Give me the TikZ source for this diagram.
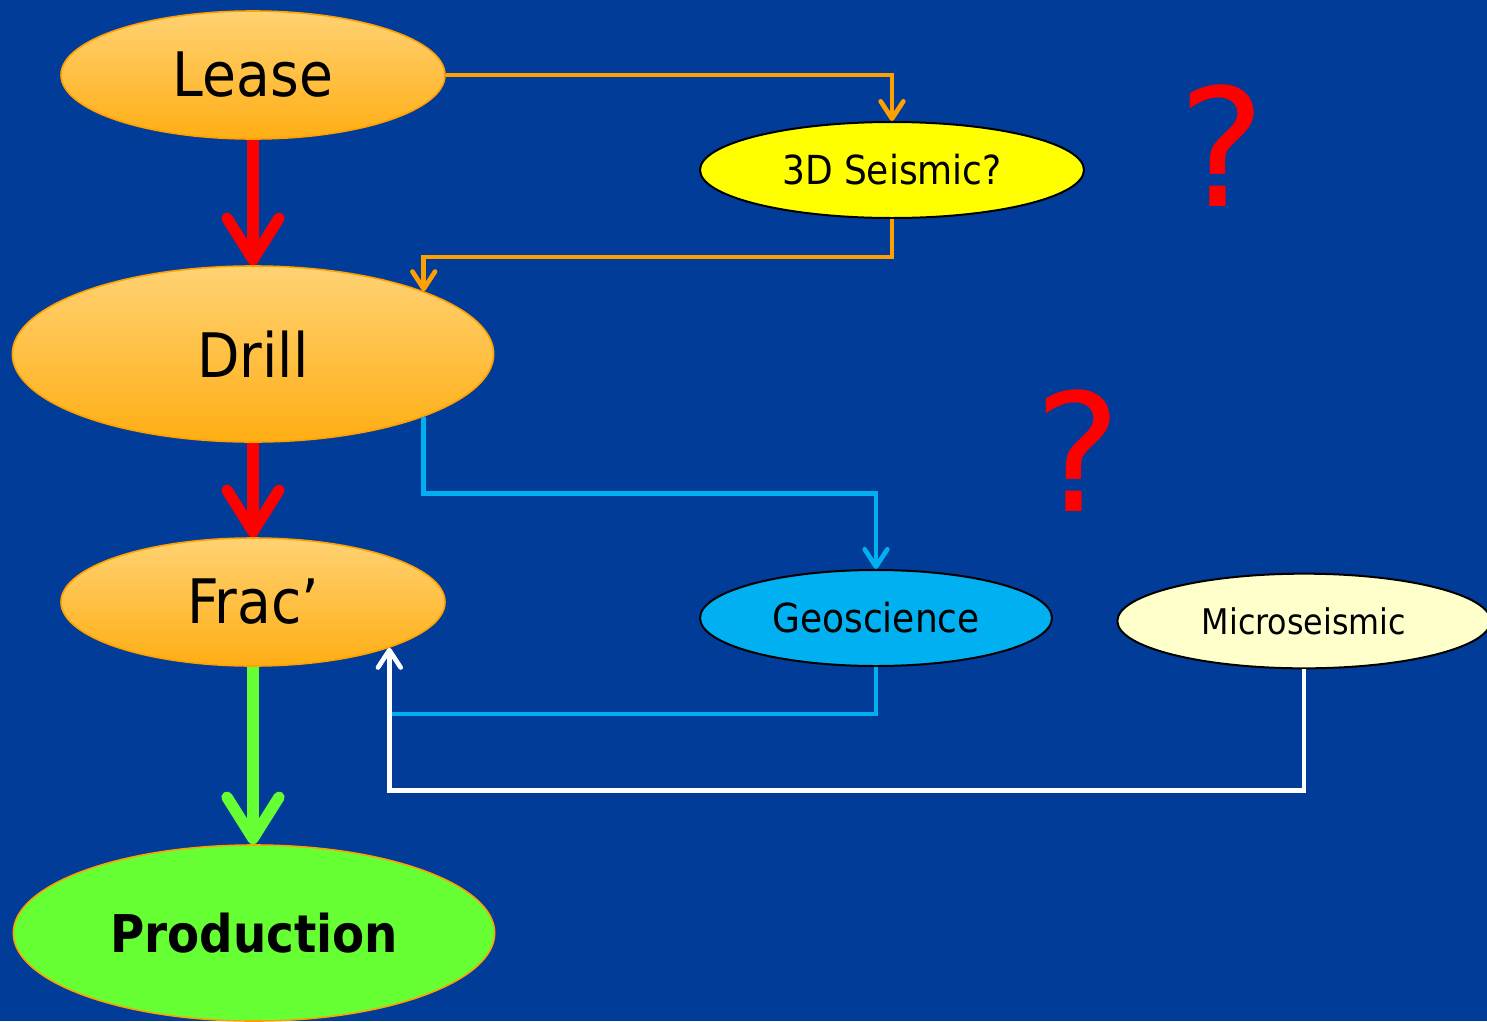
\documentclass[tikz,border=0pt]{standalone}
\usepackage{fontspec}
\setmainfont{DejaVu Sans Condensed}
\newfontfamily\qmarkfont{DejaVu Sans}
\usetikzlibrary{shapes.geometric,arrows.meta}
\definecolor{slideBlue}{RGB}{0,60,152}
\definecolor{leaseTop}{RGB}{255,210,115}
\definecolor{leaseBot}{RGB}{255,174,20}
\definecolor{leaseLine}{RGB}{255,160,0}
\definecolor{seisYellow}{RGB}{255,255,0}
\definecolor{geoCyan}{RGB}{0,176,240}
\definecolor{microCream}{RGB}{255,255,204}
\definecolor{prodGreen}{RGB}{102,255,51}
\definecolor{flowRed}{RGB}{255,0,0}
\tikzset{
	stage/.style={ellipse, inner sep=0pt, top color=leaseTop, bottom color=leaseBot, draw=leaseLine, line width=1.2pt},
	probe/.style={ellipse, inner sep=0pt, draw=black, line width=1.5pt},
	bigflow/.style={line width=8.5pt, -{Straight Barb[length=31pt,width=39pt,round]}},
	thinflow/.style={line width=3.5pt, -{Straight Barb[length=13pt,width=17pt,round]}},
	plainflow/.style={line width=3.5pt}}
\tikzset{every picture/.style={line width=0.75pt}}
\begin{document}
\begin{tikzpicture}[x=0.75pt,y=0.75pt,yscale=-1,xscale=1]
	\useasboundingbox (0,0) rectangle (1487,1021);
	\clip (0,0) rectangle (1487,1021);
	%Background
	\fill [slideBlue] (0,0) rectangle (1487,1021);

	%Shape: Ellipse stages
	\node (lease) at (253,75) [stage, minimum width=288pt, minimum height=96pt, font=\fontsize{46}{54}\selectfont] {\raisebox{-2pt}{Lease}};
	\node (drill) at (253,354) [stage, minimum width=361pt, minimum height=132pt, font=\fontsize{46}{54}\selectfont] {\raisebox{-2pt}{Drill}};
	\node (frac) at (253,602) [stage, minimum width=288pt, minimum height=96pt, font=\fontsize{46}{54}\selectfont] {\raisebox{-2pt}{Frac’}};
	\node (prod) at (254,933) [ellipse, inner sep=0pt, fill=prodGreen, draw=leaseLine, line width=1.2pt, minimum width=361pt, minimum height=132pt, font=\fontsize{39}{46}\selectfont\bfseries] {Production};
	%Shape: Ellipse data
	\node (seis) at (892,170) [probe, fill=seisYellow, minimum width=288pt, minimum height=72pt, font=\fontsize{30}{36}\selectfont] {3D Seismic?};
	\node (geo) at (876,618) [probe, fill=geoCyan, minimum width=264pt, minimum height=72pt, font=\fontsize{30}{36}\selectfont] {Geoscience};
	\node (micro) at (1304,621) [probe, fill=microCream, minimum width=280pt, minimum height=71pt, font=\fontsize{26.5}{32}\selectfont] {Microseismic};

	% Text Node
	\node (qseis) at (1222,146) [text=flowRed, font=\qmarkfont\fontsize{123}{140}\selectfont] {?};
	% Text Node
	\node (qgeo) at (1078,451) [text=flowRed, font=\qmarkfont\fontsize{123}{140}\selectfont] {?};

	%Straight Lines main flow
	\draw [bigflow, flowRed] (lease.south) -- (drill.north);
	\draw [bigflow, flowRed] (drill.south) -- (frac.south |- frac.north);
	\draw [bigflow, prodGreen] (frac.south) -- (frac.south |- prod.north);

	%Elbow Lines
	\draw [thinflow, leaseLine] (lease.east) -| (seis.north);
	\draw [thinflow, leaseLine] (seis.south) -- ++(0,38) -| (drill.north east);
	\draw [thinflow, geoCyan] (drill.south east) -- ++(0,77) -| (geo.north);
	\coordinate (geojoin) at (frac.south east |- 0,714);
	\draw [plainflow, geoCyan] (geo.south) |- (geojoin);
	\draw [thinflow, white] (micro.south) -- ++(0,121) -| (frac.south east);

\end{tikzpicture}
\end{document}
